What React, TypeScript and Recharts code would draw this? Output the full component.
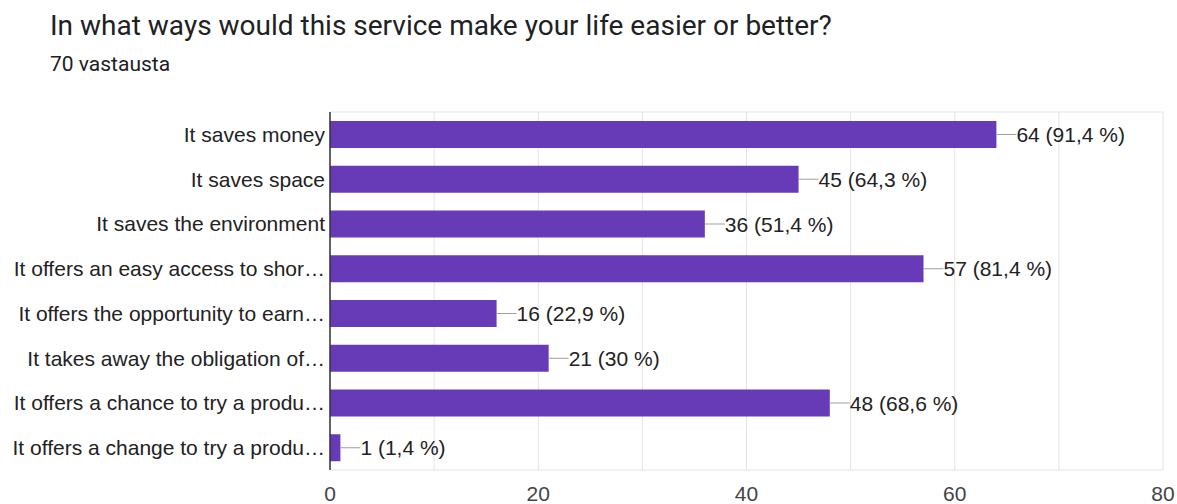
import React from 'react';
import { BarChart, Bar, XAxis, YAxis, CartesianGrid, LabelList } from 'recharts';

const categories = [
  'It saves money',
  'It saves space',
  'It saves the environment',
  'It offers an easy access to shor…',
  'It offers the opportunity to earn…',
  'It takes away the obligation of…',
  'It offers a chance to try a produ…',
  'It offers a change to try a produ…',
];
const counts = [64, 45, 36, 57, 16, 21, 48, 1];
const percentLabels = ['91,4 %', '64,3 %', '51,4 %', '81,4 %', '22,9 %', '30 %', '68,6 %', '1,4 %'];
const xTicks = [0, 10, 20, 30, 40, 50, 60, 70, 80];
const labelledTicks = [0, 20, 40, 60, 80];

const title = 'In what ways would this service make your life easier or better?';
const subtitle = '70 vastausta';

const data = categories.map((name, i) => ({ name, value: counts[i], pct: percentLabels[i] }));

const FONT = '"Liberation Sans", Arial, sans-serif';

const renderValueLabel = (props: any) => {
  const { x, y, width, height, index } = props;
  const ex = Number(x) + Number(width);
  const cy = Number(y) + Number(height) / 2;
  return (
    <g>
      <line x1={ex} y1={cy} x2={ex + 20} y2={cy} stroke="#9e9e9e" strokeWidth={1} />
      <text x={ex + 20} y={cy} dy="0.36em" fontSize={21} fontFamily={FONT} fill="#222">
        {`${counts[index]} (${percentLabels[index]})`}
      </text>
    </g>
  );
};

const XTick = (props: any) => {
  const { x, y, payload } = props;
  if (!labelledTicks.includes(payload.value)) return <g />;
  return (
    <text x={x} y={y} dy="0.71em" textAnchor="middle" fontSize={21} fontFamily={FONT} fill="#444">
      {payload.value}
    </text>
  );
};

export default function App() {
  return (
    <div style={{ position: 'absolute', left: 0, top: 0, width: 1177, height: 504, background: '#fff', overflow: 'hidden' }}>
      <div style={{ position: 'absolute', left: 50, top: 12, fontFamily: 'Roboto, sans-serif', fontSize: 28, color: '#202124', whiteSpace: 'nowrap', lineHeight: '28px' }}>
        {title}
      </div>
      <div style={{ position: 'absolute', left: 50, top: 54, fontFamily: 'Roboto, sans-serif', fontSize: 21, color: '#202124', whiteSpace: 'nowrap', lineHeight: '21px' }}>
        {subtitle}
      </div>
      <div style={{ position: 'absolute', left: 0, top: 0 }}>
        <BarChart
          width={1177}
          height={504}
          data={data}
          layout="vertical"
          margin={{ top: 112, right: 14, bottom: 0, left: 0 }}
        >
          <CartesianGrid stroke="#e3e3e3" horizontalPoints={[112, 470]} />
          <XAxis
            type="number"
            domain={[0, 80]}
            ticks={xTicks}
            interval={0}
            axisLine={false}
            tickLine={false}
            tickSize={0}
            tickMargin={16}
            height={34}
            tick={<XTick />}
          />
          <YAxis
            type="category"
            dataKey="name"
            width={330}
            interval={0}
            tickLine={false}
            tickSize={0}
            tickMargin={5}
            axisLine={{ stroke: '#333', strokeWidth: 1.5 }}
            tick={{ fill: '#222', fontSize: 21, fontFamily: FONT }}
          />
          <Bar dataKey="value" fill="#673ab7" barSize={27} isAnimationActive={false}>
            <LabelList dataKey="value" content={renderValueLabel} />
          </Bar>
        </BarChart>
      </div>
    </div>
  );
}
